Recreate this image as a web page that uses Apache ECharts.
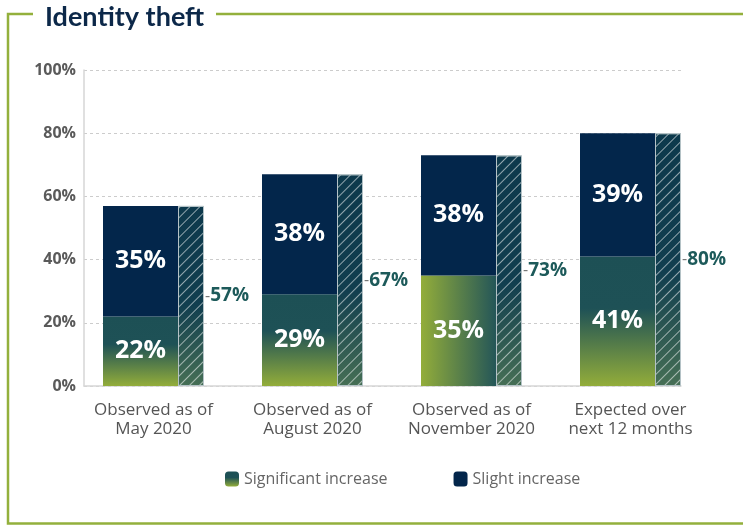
<!DOCTYPE html>
<html>
<head>
<meta charset="utf-8">
<script src="https://cdn.jsdelivr.net/npm/echarts@6/dist/echarts.min.js"></script>
<style>html,body{margin:0;padding:0;background:#fff;}#c{width:743px;height:525px;}</style>
</head>
<body>
<div id="c"></div>
<script>
const categories = ['Observed as of\nMay 2020', 'Observed as of\nAugust 2020', 'Observed as of\nNovember 2020', 'Expected over\nnext 12 months'];
const significant = [22, 29, 35, 41];
const slight = [35, 38, 38, 39];
const total = [57, 67, 73, 80];
const legendNames = ['Significant increase', 'Slight increase'];

const FONT = '"Open Sans", sans-serif';
const vGrad = new echarts.graphic.LinearGradient(0, 0, 0, 1, [
  {offset: 0, color: '#1d5055'}, {offset: 0.4, color: '#1e5156'}, {offset: 1, color: '#93ad3a'}
]);
const hGrad = new echarts.graphic.LinearGradient(0, 0, 1, 0, [
  {offset: 0, color: '#93ad3a'}, {offset: 1, color: '#245658'}
]);
const hatchGrad = new echarts.graphic.LinearGradient(0, 0, 0, 1, [
  {offset: 0, color: '#0d394c'}, {offset: 0.55, color: '#113e4f'}, {offset: 1, color: '#466f55'}
]);

const chart = echarts.init(document.getElementById('c'), null, {renderer: 'canvas'});
const green = '#93b03c';
chart.setOption({
  animation: false,
  title: {
    text: 'Identity theft', left: 40, top: -1,
    textStyle: {color: '#0c2849', fontSize: 27, fontWeight: 'bold', fontFamily: 'Lato, sans-serif'}
  },
  graphic: [
    {type: 'polyline', shape: {points: [[33, 14], [8, 14], [8, 523.5], [743, 523.5]]}, style: {stroke: green, lineWidth: 2.5, fill: null}},
    {type: 'line', shape: {x1: 216, y1: 14, x2: 743, y2: 14}, style: {stroke: green, lineWidth: 2.5}}
  ],
  legend: {
    data: legendNames, bottom: 33, left: 220, itemWidth: 14, itemHeight: 15, itemGap: 66,
    textStyle: {color: '#666', fontSize: 16, fontFamily: FONT}
  },
  grid: [
    {left: 84, width: 597, top: 70, height: 316},
    {left: 74, width: 636, top: 70, height: 316}
  ],
  xAxis: [
    {gridIndex: 0, type: 'category', data: categories, axisLabel: {show: false}, axisTick: {show: false},
     axisLine: {lineStyle: {color: '#d6d6d6', width: 1.5}}},
    {gridIndex: 1, type: 'category', data: categories, axisTick: {show: false}, axisLine: {show: false},
     axisLabel: {interval: 0, hideOverlap: false, color: '#555', fontSize: 17, lineHeight: 19, margin: 15, fontFamily: FONT}}
  ],
  yAxis: [
    {gridIndex: 0, type: 'value', min: 0, max: 100, interval: 20,
     axisLine: {show: true, lineStyle: {color: '#d6d6d6', width: 1.5}},
     splitLine: {lineStyle: {color: '#cccccc', type: [3, 3]}},
     axisLabel: {formatter: '{value}%', color: '#5a5a5a', fontSize: 16, fontWeight: 'bold', margin: 8, fontFamily: FONT}},
    {gridIndex: 1, type: 'value', min: 0, max: 100, show: false}
  ],
  series: [
    {
      name: legendNames[0], type: 'bar', stack: 'a', xAxisIndex: 1, yAxisIndex: 1, barWidth: 75, barGap: '0%',
      itemStyle: {color: vGrad},
      data: significant.map((v, i) => i === 2 ? {value: v, itemStyle: {color: hGrad}} : v),
      label: {show: true, position: 'inside', formatter: '{c}%', color: '#fff', fontSize: 25, fontWeight: 'bold', fontFamily: FONT}
    },
    {
      name: legendNames[1], type: 'bar', stack: 'a', xAxisIndex: 1, yAxisIndex: 1, barWidth: 75, barGap: '0%',
      itemStyle: {color: '#03264b'},
      data: slight,
      label: {show: true, position: 'inside', formatter: '{c}%', color: '#fff', fontSize: 25, fontWeight: 'bold', fontFamily: FONT}
    },
    {
      name: 'Total', type: 'bar', stack: 'b', xAxisIndex: 1, yAxisIndex: 1, barWidth: 26, barGap: '0%',
      itemStyle: {
        color: hatchGrad, borderColor: '#b4c2c6', borderWidth: 1,
        decal: {symbol: 'rect', symbolSize: 1, dashArrayX: [1, 0], dashArrayY: [1, 6], rotation: -Math.PI / 4, color: 'rgba(255,255,255,0.55)'}
      },
      data: total,
      label: {
        show: true, position: 'right', distance: 1,
        formatter: p => '{d|-}{v|' + p.value + '%}',
        rich: {
          d: {color: '#777', fontSize: 16, fontFamily: FONT},
          v: {color: '#1d5a5a', fontSize: 19, fontWeight: 'bold', fontFamily: FONT}
        }
      }
    }
  ]
});
</script>
</body>
</html>
